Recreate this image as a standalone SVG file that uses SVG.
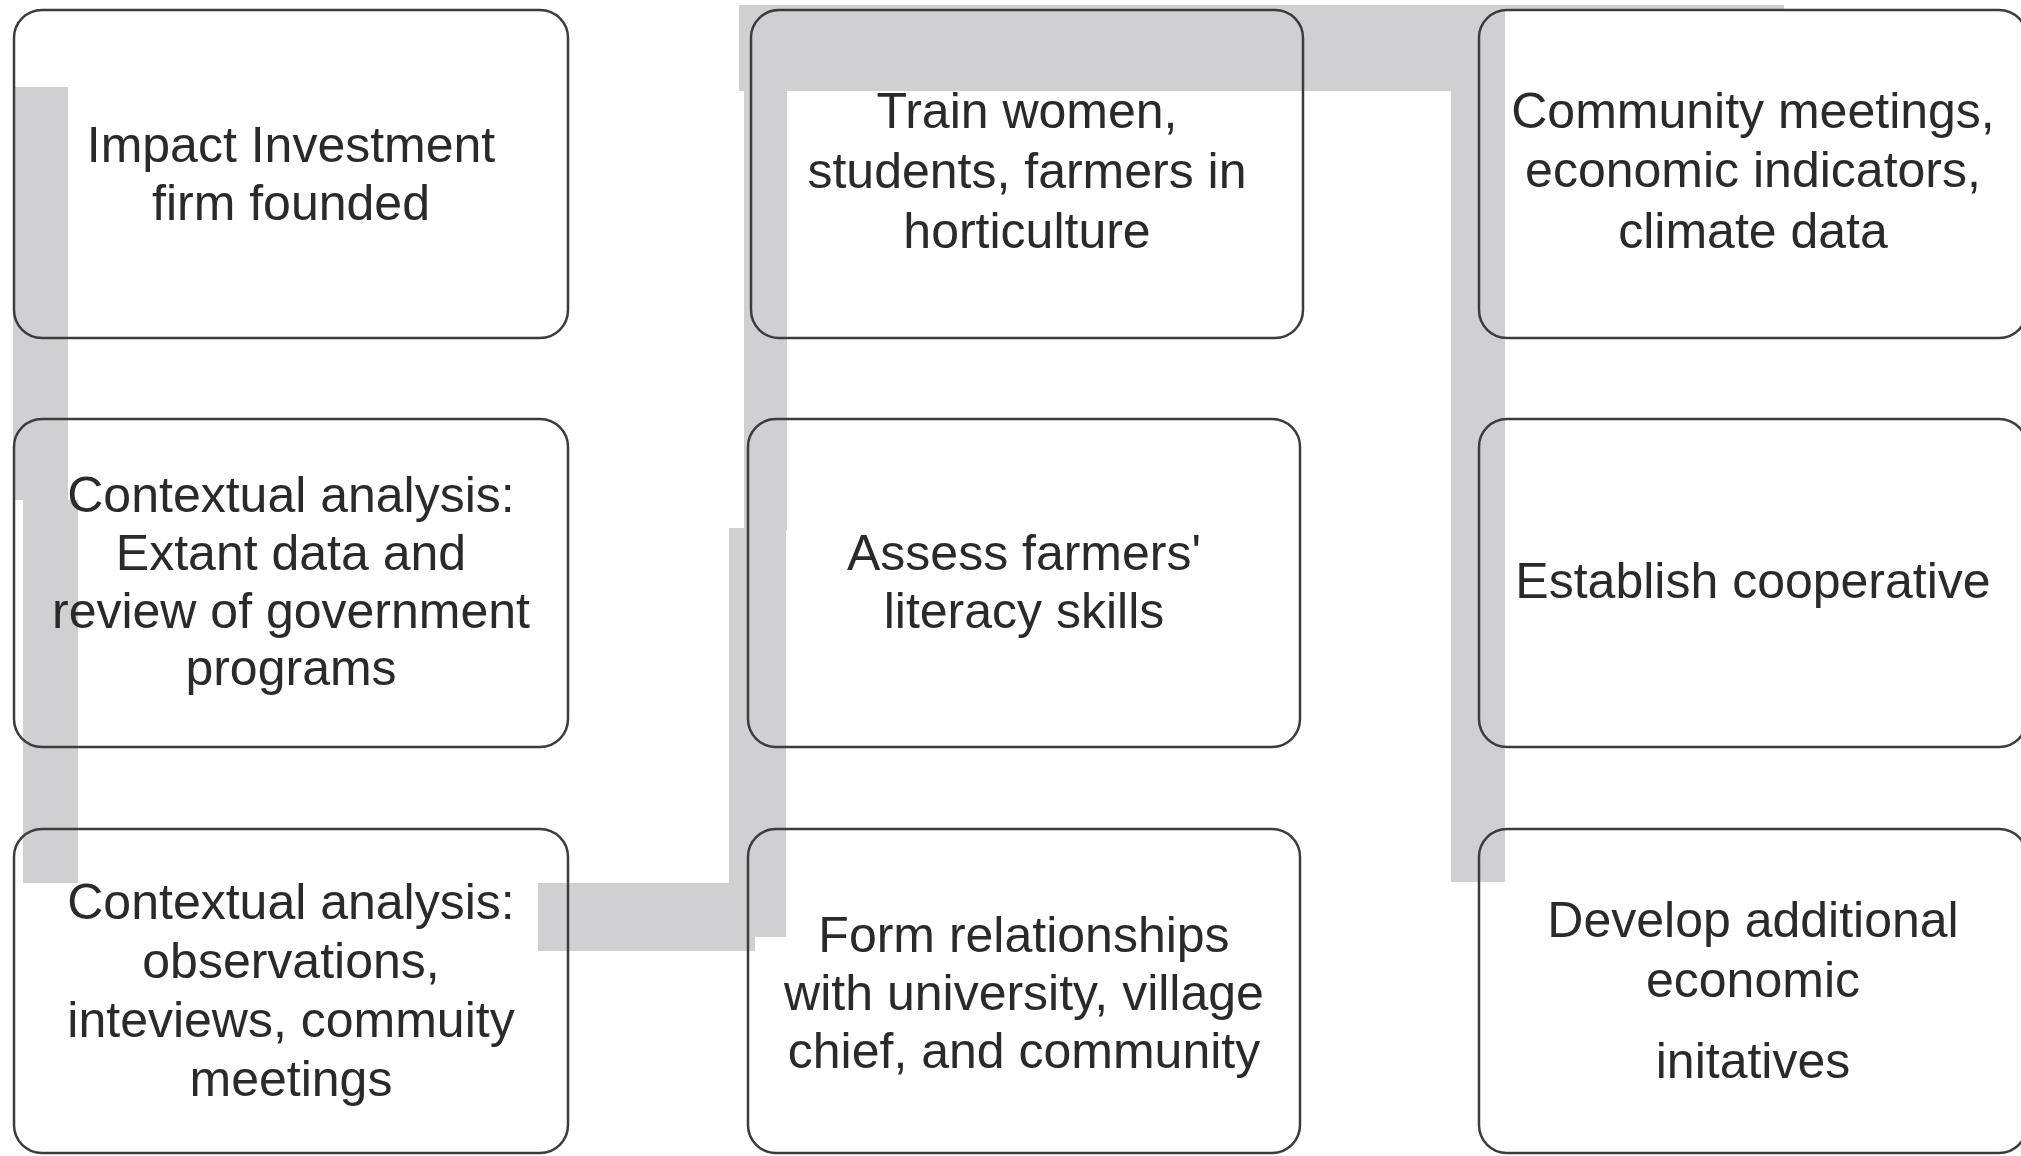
<svg xmlns="http://www.w3.org/2000/svg" width="2021" height="1156" viewBox="0 0 2021 1156">
<style>
.box{fill:none;stroke:#3c3c3c;stroke-width:2.5}
.bar{fill:#d0d0d2}
.t{font-family:"Liberation Sans",Arial,sans-serif;font-size:50px;fill:#2a2a2a;text-anchor:middle}
</style>
<rect width="2021" height="1156" fill="#ffffff"/>
<g id="connectors">
<polygon class="bar" points="13,87 68,87 68,500 78,500 78,883 23,883 23,500 13,500"/>
<rect class="bar" x="538" y="883" width="217" height="68"/>
<rect class="bar" x="729" y="528" width="57" height="409"/>
<rect class="bar" x="744" y="88" width="43" height="442"/>
<rect class="bar" x="739" y="5" width="766" height="86"/>
<rect class="bar" x="1451" y="88" width="54" height="794"/>
<rect class="bar" x="1505" y="5" width="279" height="5"/>
</g>
<g id="node1"><rect class="box" x="14" y="10" width="554" height="328" rx="28"/>
<text class="t" x="291" y="162">Impact Investment</text><text class="t" x="291" y="220">firm founded</text></g>
<g id="node2"><rect class="box" x="751" y="10" width="552" height="328" rx="28"/>
<text class="t" x="1027" y="128">Train women,</text><text class="t" x="1027" y="188">students, farmers in</text><text class="t" x="1027" y="248">horticulture</text></g>
<g id="node3"><rect class="box" x="1479" y="10" width="548" height="328" rx="28"/>
<text class="t" x="1753" y="128">Community meetings,</text><text class="t" x="1753" y="187">economic indicators,</text><text class="t" x="1753" y="248">climate data</text></g>
<g id="node4"><rect class="box" x="14" y="419" width="554" height="328" rx="28"/>
<text class="t" x="291" y="512">Contextual analysis:</text><text class="t" x="291" y="570">Extant data and</text><text class="t" x="291" y="628">review of government</text><text class="t" x="291" y="685">programs</text></g>
<g id="node5"><rect class="box" x="748" y="419" width="552" height="328" rx="28"/>
<text class="t" x="1024" y="570">Assess farmers'</text><text class="t" x="1024" y="628">literacy skills</text></g>
<g id="node6"><rect class="box" x="1479" y="419" width="548" height="328" rx="28"/>
<text class="t" x="1753" y="598">Establish cooperative</text></g>
<g id="node7"><rect class="box" x="14" y="829" width="554" height="324" rx="28"/>
<text class="t" x="291" y="919">Contextual analysis:</text><text class="t" x="291" y="978">observations,</text><text class="t" x="291" y="1037">inteviews, commuity</text><text class="t" x="291" y="1096">meetings</text></g>
<g id="node8"><rect class="box" x="748" y="829" width="552" height="324" rx="28"/>
<text class="t" x="1024" y="952">Form relationships</text><text class="t" x="1024" y="1010">with university, village</text><text class="t" x="1024" y="1068">chief, and community</text></g>
<g id="node9"><rect class="box" x="1479" y="829" width="548" height="324" rx="28"/>
<text class="t" x="1753" y="937">Develop additional</text><text class="t" x="1753" y="997">economic</text><text class="t" x="1753" y="1078">initatives</text></g>
</svg>
